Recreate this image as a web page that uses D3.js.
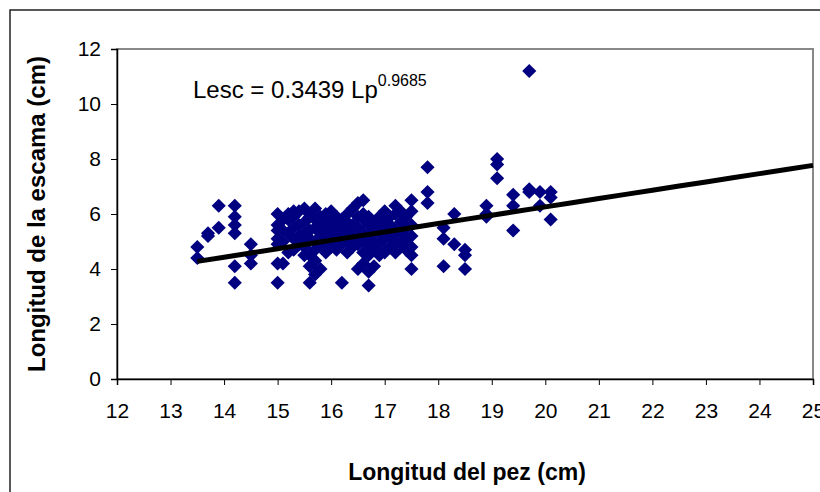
<!DOCTYPE html>
<html>
<head>
<meta charset="utf-8">
<script src="https://cdn.jsdelivr.net/npm/d3@7"></script>
<style>
  body { margin: 0; background: #fff; }
  svg { font-family: "Liberation Sans", Arial, sans-serif; }
</style>
</head>
<body>
<svg width="820" height="492"></svg>
<script>
// fish length (cm) vs scale length (cm)
var lengthPez = [
  13.5, 13.5, 13.7, 13.7, 13.9, 13.9, 14.2, 14.2, 14.2, 14.2, 14.2, 14.2, 14.5, 14.5, 14.5,
  15.0, 15.0, 15.0, 15.0, 15.0, 15.0, 15.0,
  15.1, 15.1, 15.1, 15.1,
  15.2, 15.2, 15.2, 15.2,
  15.3, 15.3, 15.3, 15.3, 15.3,
  15.4, 15.4, 15.4, 15.4,
  15.5, 15.5, 15.5, 15.5, 15.5, 15.5,
  15.6, 15.6, 15.6, 15.6, 15.6, 15.6, 15.6,
  15.7, 15.7, 15.7, 15.7, 15.7, 15.7, 15.7,
  15.8, 15.8, 15.8, 15.8, 15.8,
  15.9, 15.9, 15.9, 15.9, 15.9,
  16.0, 16.0, 16.0, 16.0, 16.0,
  16.1, 16.1, 16.1, 16.1, 16.1,
  16.2, 16.2, 16.2, 16.2, 16.2,
  16.3, 16.3, 16.3, 16.3, 16.3,
  16.4, 16.4, 16.4, 16.4,
  16.5, 16.5, 16.5, 16.5, 16.5, 16.5,
  16.6, 16.6, 16.6, 16.6, 16.6, 16.6, 16.6,
  16.7, 16.7, 16.7, 16.7, 16.7, 16.7, 16.7,
  16.8, 16.8, 16.8, 16.8, 16.8,
  16.9, 16.9, 16.9, 16.9, 16.9,
  17.0, 17.0, 17.0, 17.0, 17.0,
  17.1, 17.1, 17.1, 17.1,
  17.2, 17.2, 17.2, 17.2, 17.2,
  17.3, 17.3, 17.3, 17.3,
  17.4, 17.4, 17.4, 17.4,
  17.5, 17.5, 17.5, 17.5, 17.5, 17.5, 17.5,
  17.8, 17.8, 17.8,
  18.1, 18.1, 18.1,
  18.3, 18.3,
  18.5, 18.5, 18.5,
  18.9, 18.9, 18.9,
  19.1, 19.1, 19.1,
  19.4, 19.4, 19.4,
  19.7, 19.7, 19.7,
  19.9, 19.9,
  20.1, 20.1, 20.1
];
var lengthEscama = [
  4.8, 4.4, 5.2, 5.3, 5.5, 6.3, 6.3, 5.9, 5.6, 5.3, 4.1, 3.5, 4.9, 4.5, 4.2,
  3.5, 4.2, 4.9, 5.1, 5.4, 5.6, 6.0,
  4.2, 5.0, 5.4, 5.8,
  4.6, 5.3, 5.8, 6.0,
  4.7, 5.1, 5.5, 5.9, 6.1,
  4.9, 5.2, 5.6, 6.1,
  4.5, 4.8, 5.0, 5.3, 5.7, 6.2,
  3.5, 4.1, 4.5, 5.1, 5.4, 5.9, 6.0,
  3.8, 4.3, 4.7, 5.0, 5.5, 5.8, 6.2,
  4.0, 4.9, 5.3, 5.6, 5.9,
  4.6, 5.1, 5.4, 5.7, 6.0,
  4.8, 5.2, 5.5, 5.8, 6.1,
  4.7, 5.0, 5.3, 5.6, 5.9,
  3.5, 4.9, 5.2, 5.5, 5.8,
  4.6, 5.0, 5.4, 5.7, 6.0,
  4.8, 5.2, 5.6, 6.2,
  4.0, 4.9, 5.1, 5.5, 5.9, 6.4,
  4.2, 4.6, 5.0, 5.3, 5.8, 6.0, 6.5,
  3.4, 3.9, 4.5, 4.8, 5.2, 5.6, 5.9,
  4.1, 4.7, 5.0, 5.4, 5.7,
  4.5, 4.9, 5.3, 5.6, 5.9,
  4.6, 5.1, 5.5, 5.8, 6.1,
  4.8, 5.2, 5.6, 5.9,
  4.6, 5.0, 5.4, 6.0, 6.3,
  4.9, 5.3, 5.7, 6.1,
  4.7, 5.1, 5.5, 5.9,
  4.0, 4.5, 4.8, 5.2, 5.6, 6.1, 6.5,
  7.7, 6.8, 6.4,
  4.1, 5.5, 5.1,
  6.0, 4.9,
  4.7, 4.0, 4.5,
  6.3, 6.0, 5.9,
  8.0, 7.8, 7.3,
  6.7, 6.3, 5.4,
  11.2, 6.9, 6.8,
  6.8, 6.3,
  6.8, 5.8, 6.6
];
var xTicks = [12, 13, 14, 15, 16, 17, 18, 19, 20, 21, 22, 23, 24, 25];
var yTicks = [0, 2, 4, 6, 8, 10, 12];
// power trend: Lesc = a * Lp^b
var coefA = 0.3439, coefB = 0.9685;
var trendFrom = 13.5, trendTo = 25;

var svg = d3.select("svg");
var padL = 117, padR = 813, padT = 49, padB = 379;

var x = d3.scaleLinear().domain([12, 25]).range([padL, padR]);
var y = d3.scaleLinear().domain([0, 12]).range([padB, padT]);

// outer chart border
svg.append("rect")
   .attr("x", 10).attr("y", 10)
   .attr("width", 830).attr("height", 500)
   .attr("fill", "none")
   .attr("stroke", "#222")
   .attr("stroke-width", 1.5);

// plot area border
svg.append("rect")
   .attr("x", padL).attr("y", padT)
   .attr("width", padR - padL).attr("height", padB - padT)
   .attr("fill", "#fff")
   .attr("stroke", "#888")
   .attr("stroke-width", 2);

var points = lengthPez.map(function(d, i) { return { x: d, y: lengthEscama[i] }; });

svg.append("g")
   .selectAll("path")
   .data(points)
   .enter().append("path")
   .attr("d", d3.symbol(d3.symbolSquare, 100))
   .attr("transform", function(d) {
       return "translate(" + x(d.x) + "," + y(d.y) + ") rotate(45)";
   })
   .attr("fill", "#000080");

// trend line
var trendX = d3.range(trendFrom, trendTo + 0.01, 0.5);
var line = d3.line()
    .x(function(d) { return x(d); })
    .y(function(d) { return y(coefA * Math.pow(d, coefB)); });
svg.append("path")
   .datum(trendX)
   .attr("d", line)
   .attr("fill", "none")
   .attr("stroke", "#000")
   .attr("stroke-width", 5);

// axes
var xAxis = svg.append("g")
   .attr("transform", "translate(0," + padB + ")")
   .call(d3.axisBottom(x).tickValues(xTicks).tickSize(6).tickPadding(18));
var yAxis = svg.append("g")
   .attr("transform", "translate(" + padL + ",0)")
   .call(d3.axisLeft(y).tickValues(yTicks).tickSize(6).tickPadding(10));

[xAxis, yAxis].forEach(function(a) {
    a.select(".domain").attr("stroke", "#000").attr("stroke-width", 1.5);
    a.selectAll(".tick line").attr("stroke", "#000");
    a.selectAll(".tick text")
     .attr("font-size", 21)
     .attr("font-family", "Liberation Sans, Arial, sans-serif")
     .attr("fill", "#000");
});

// equation
var eq = svg.append("text")
   .attr("x", 193).attr("y", 98)
   .attr("font-size", 24)
   .attr("fill", "#000");
eq.append("tspan").text("Lesc = " + coefA + " Lp");
eq.append("tspan").attr("font-size", 16).attr("dy", -12).text(coefB);

// axis titles
svg.append("text")
   .attr("x", 467).attr("y", 480)
   .attr("text-anchor", "middle")
   .attr("font-size", 23)
   .attr("font-weight", "bold")
   .text("Longitud del pez (cm)");

svg.append("text")
   .attr("transform", "translate(45,214) rotate(-90)")
   .attr("text-anchor", "middle")
   .attr("font-size", 24)
   .attr("font-weight", "bold")
   .text("Longitud de la escama (cm)");
</script>
</body>
</html>
